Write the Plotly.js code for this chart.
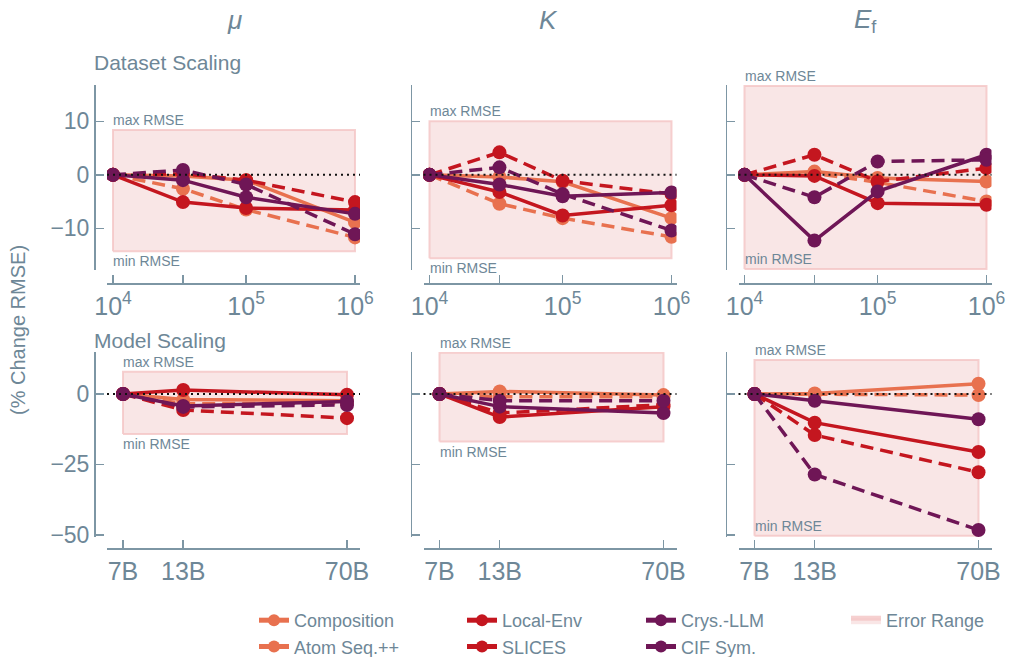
<!DOCTYPE html>
<html>
<head>
<meta charset="utf-8">
<script src="https://cdn.plot.ly/plotly-3.0.1.min.js"></script>
<style>html,body{margin:0;padding:0;background:#fff;}#chart{width:1010px;height:657px;}</style>
</head>
<body>
<div id="chart"></div>
<script>
// ---------------- DATA ----------------
const properties = ['<i>μ</i>', '<i>K</i>', '<i>E</i><sub>f</sub>'];
const seriesNames = ['Composition', 'Atom Seq.++', 'Local-Env', 'SLICES', 'Crys.-LLM', 'CIF Sym.'];

// Dataset scaling x (four training-set sizes, only three labelled)
const datasetPos = [0, 0.289, 0.55, 1];
const datasetTicks = ['10<sup>4</sup>', '', '10<sup>5</sup>', '10<sup>6</sup>'];
// Model scaling x
const modelSizes = [7, 13, 70];
const modelTicks = ['7B', '13B', '70B'];

// % change RMSE, dataset scaling
const dsMu = {
  'Composition': [0, -0.2, -1.0, -8.9],
  'Atom Seq.++': [0, -2.6, -6.5, -11.7],
  'Local-Env':   [0, -5.1, -6.2, -6.6],
  'SLICES':      [0, 0.2, -1.0, -5.1],
  'Crys.-LLM':   [0, -1.0, -4.2, -7.3],
  'CIF Sym.':    [0, 0.9, -1.8, -11.1]
};
const dsK = {
  'Composition': [0, -0.4, -1.3, -8.1],
  'Atom Seq.++': [0, -5.4, -8.1, -11.6],
  'Local-Env':   [0, -3.2, -7.6, -5.7],
  'SLICES':      [0, 4.2, -1.1, -3.6],
  'Crys.-LLM':   [0, -1.8, -4.0, -3.3],
  'CIF Sym.':    [0, 1.4, -3.6, -10.4]
};
const dsEf = {
  'Composition': [0, 0.6, -0.6, -1.25],
  'Atom Seq.++': [0, 0.3, -1.4, -5.0],
  'Local-Env':   [0, -0.2, -5.3, -5.6],
  'SLICES':      [0, 3.75, -1.25, 1.25],
  'Crys.-LLM':   [0, -12.3, -3.1, 3.75],
  'CIF Sym.':    [0, -4.2, 2.5, 2.8]
};
// % change RMSE, model scaling
const msMu = {
  'Composition': [0, -2.0, -2.4],
  'Atom Seq.++': [0, -3.5, -3.2],
  'Local-Env':   [0, 1.4, -0.3],
  'SLICES':      [0, -5.7, -8.6],
  'Crys.-LLM':   [0, -4.3, -2.7],
  'CIF Sym.':    [0, -4.6, -3.9]
};
const msK = {
  'Composition': [0, 0.9, -0.4],
  'Atom Seq.++': [0, -1.0, -1.0],
  'Local-Env':   [0, -8.2, -4.5],
  'SLICES':      [0, -6.8, -3.8],
  'Crys.-LLM':   [0, -4.5, -6.8],
  'CIF Sym.':    [0, -2.4, -2.4]
};
const msEf = {
  'Composition': [0, 0.2, 3.6],
  'Atom Seq.++': [0, -0.1, -0.4],
  'Local-Env':   [0, -10.2, -20.6],
  'SLICES':      [0, -14.6, -27.8],
  'Crys.-LLM':   [0, -2.4, -9.0],
  'CIF Sym.':    [0, -28.6, -48.3]
};
// Error range (max / min RMSE) per panel
const dsErrMax = [8.4, 10.0, 16.6];
const dsErrMin = [-14.3, -15.6, -17.6];
const msErrMax = [7.9, 14.6, 12.1];
const msErrMin = [-14.2, -16.9, -50.4];

// ---------------- STYLE ----------------
const W = 1010, H = 657;
const fx = p => p / W, fy = p => 1 - p / H;
const SLATE = '#6e8797';
const AXIS = '#7d96a4';
const FONT = 'Liberation Sans, Arial, sans-serif';
const colors = {
  'Composition': '#e8714f', 'Atom Seq.++': '#e8714f',
  'Local-Env': '#c4161f', 'SLICES': '#c4161f',
  'Crys.-LLM': '#6f1656', 'CIF Sym.': '#6f1656'
};
const dashes = {
  'Composition': 'solid', 'Atom Seq.++': '13px,7px',
  'Local-Env': 'solid', 'SLICES': '13px,7px',
  'Crys.-LLM': 'solid', 'CIF Sym.': '13px,7px'
};
const legendOf = {
  'Composition': 'legend', 'Atom Seq.++': 'legend',
  'Local-Env': 'legend2', 'SLICES': 'legend2',
  'Crys.-LLM': 'legend3', 'CIF Sym.': 'legend3'
};

const colDom = [[107, 360], [423.5, 676.5], [738.5, 991.5]];
const yLinePx = [94, 410.5, 725.5];
const rowDom = [[85, 270], [352, 537]];
const xLinePx = [283, 548];
const dsRange = [-17.8, 16.8];
const msRange = [-50.8, 14.9];

const panels = [
  {row: 0, col: 0, data: dsMu, x: datasetPos, errMax: dsErrMax[0], errMin: dsErrMin[0]},
  {row: 0, col: 1, data: dsK, x: datasetPos, errMax: dsErrMax[1], errMin: dsErrMin[1]},
  {row: 0, col: 2, data: dsEf, x: datasetPos, errMax: dsErrMax[2], errMin: dsErrMin[2]},
  {row: 1, col: 0, data: msMu, x: modelSizes, errMax: msErrMax[0], errMin: msErrMin[0]},
  {row: 1, col: 1, data: msK, x: modelSizes, errMax: msErrMax[1], errMin: msErrMin[1]},
  {row: 1, col: 2, data: msEf, x: modelSizes, errMax: msErrMax[2], errMin: msErrMin[2]}
];

const traces = [];
const layout = {
  width: W, height: H,
  margin: {l: 0, r: 0, t: 0, b: 0, autoexpand: false},
  paper_bgcolor: '#fff', plot_bgcolor: 'rgba(0,0,0,0)',
  font: {family: FONT, color: SLATE},
  showlegend: true,
  shapes: [], annotations: []
};

panels.forEach((p, i) => {
  const n = i + 1;
  const xa = 'x' + (n > 1 ? n : ''), ya = 'y' + (n > 1 ? n : '');
  const xKey = 'xaxis' + (n > 1 ? n : ''), yKey = 'yaxis' + (n > 1 ? n : '');
  const yr = p.row === 0 ? dsRange : msRange;
  const x0 = p.x[0], x1 = p.x[p.x.length - 1];

  // error range box
  traces.push({
    type: 'scatter', mode: 'lines', xaxis: xa, yaxis: ya,
    x: [x0, x1, x1, x0, x0],
    y: [p.errMin, p.errMin, p.errMax, p.errMax, p.errMin],
    fill: 'toself', fillcolor: 'rgba(247,222,222,0.75)',
    line: {color: 'rgba(244,196,196,0.8)', width: 2},
    name: 'Error Range', legend: 'legend4', showlegend: i === 0,
    hoverinfo: 'skip'
  });

  seriesNames.forEach(s => {
    traces.push({
      type: 'scatter', mode: 'lines+markers', xaxis: xa, yaxis: ya,
      x: p.x, y: p.data[s], name: s,
      line: {color: colors[s], width: 3.5, dash: dashes[s]},
      marker: {color: colors[s], size: 14},
      legend: legendOf[s], showlegend: i === 0
    });
  });

  // x axis
  const xd = colDom[p.col];
  const xaxis = {
    domain: [fx(xd[0]), fx(xd[1])], anchor: 'free', position: fy(xLinePx[p.row]),
    showgrid: false, zeroline: false, showline: true, linecolor: AXIS, linewidth: 1.5,
    ticks: 'inside', ticklen: 8, tickwidth: 1.5, tickcolor: AXIS,
    tickfont: {size: 25, color: SLATE, family: FONT}
  };
  if (p.row === 0) {
    Object.assign(xaxis, {type: 'linear', range: [-0.0248, 1.0207], tickmode: 'array',
      tickvals: datasetPos, ticktext: datasetTicks});
  } else {
    Object.assign(xaxis, {type: 'log', range: [Math.log10(7) - 16 / 224, Math.log10(70) + 13 / 224],
      tickmode: 'array', tickvals: modelSizes, ticktext: modelTicks});
  }
  layout[xKey] = xaxis;

  const rd = rowDom[p.row];
  layout[yKey] = {
    domain: [fy(rd[1]), fy(rd[0])], anchor: 'free', position: fx(yLinePx[p.col]),
    range: yr, showgrid: false, zeroline: false, showline: true, linecolor: AXIS, linewidth: 1.5,
    ticks: 'inside', ticklen: 8, tickwidth: 1.5, tickcolor: AXIS,
    tickmode: 'array',
    tickvals: p.row === 0 ? [-10, 0, 10] : [-50, -25, 0],
    ticktext: p.row === 0 ? ['−10', '0', '10'] : ['−50', '−25', '0'],
    showticklabels: p.col === 0,
    tickfont: {size: 23, color: SLATE, family: FONT}
  };

  // zero dotted line
  layout.shapes.push({
    type: 'line', xref: xa + ' domain', yref: ya, x0: 0, x1: 1, y0: 0, y1: 0,
    line: {color: '#111', width: 2, dash: '2px,4px'}
  });

  // max / min RMSE labels
  layout.annotations.push({
    xref: xa, yref: ya, x: p.row === 1 ? Math.log10(x0) : x0, y: p.errMax,
    text: 'max RMSE', showarrow: false, xanchor: 'left', yanchor: 'bottom',
    font: {size: 14, color: SLATE, family: FONT}, xshift: -2
  });
  const inside = p.errMin < yr[0] + 1.5;
  layout.annotations.push({
    xref: xa, yref: ya, x: p.row === 1 ? Math.log10(x0) : x0, y: p.errMin,
    text: 'min RMSE', showarrow: false, xanchor: 'left', yanchor: inside ? 'bottom' : 'top',
    font: {size: 14, color: SLATE, family: FONT}, xshift: -2
  });
});

// column titles
[234, 548, 865].forEach((px, j) => {
  layout.annotations.push({
    xref: 'paper', yref: 'paper', x: fx(px), y: fy(20), text: properties[j],
    showarrow: false, xanchor: 'center', yanchor: 'middle',
    font: {size: 26, color: SLATE, family: FONT}
  });
});
// row titles
layout.annotations.push({xref: 'paper', yref: 'paper', x: fx(92), y: fy(63), text: 'Dataset Scaling',
  showarrow: false, xanchor: 'left', yanchor: 'middle', font: {size: 21, color: SLATE, family: FONT}});
layout.annotations.push({xref: 'paper', yref: 'paper', x: fx(92), y: fy(340), text: 'Model Scaling',
  showarrow: false, xanchor: 'left', yanchor: 'middle', font: {size: 21, color: SLATE, family: FONT}});
// y title
layout.annotations.push({xref: 'paper', yref: 'paper', x: fx(18), y: fy(330), text: '(% Change RMSE)',
  showarrow: false, textangle: -90, xanchor: 'center', yanchor: 'middle',
  font: {size: 20, color: SLATE, family: FONT}});

// legends
const legBase = {
  orientation: 'v', xref: 'paper', yref: 'paper', xanchor: 'left', yanchor: 'top',
  y: fy(602), bgcolor: 'rgba(0,0,0,0)', borderwidth: 0, itemsizing: 'constant',
  font: {size: 18, color: SLATE, family: FONT}, tracegroupgap: 0, itemclick: false
};
layout.legend = Object.assign({}, legBase, {x: fx(254)});
layout.legend2 = Object.assign({}, legBase, {x: fx(462)});
layout.legend3 = Object.assign({}, legBase, {x: fx(641)});
layout.legend4 = Object.assign({}, legBase, {x: fx(846)});

Plotly.newPlot('chart', traces, layout, {displayModeBar: false, staticPlot: true});
</script>
</body>
</html>
